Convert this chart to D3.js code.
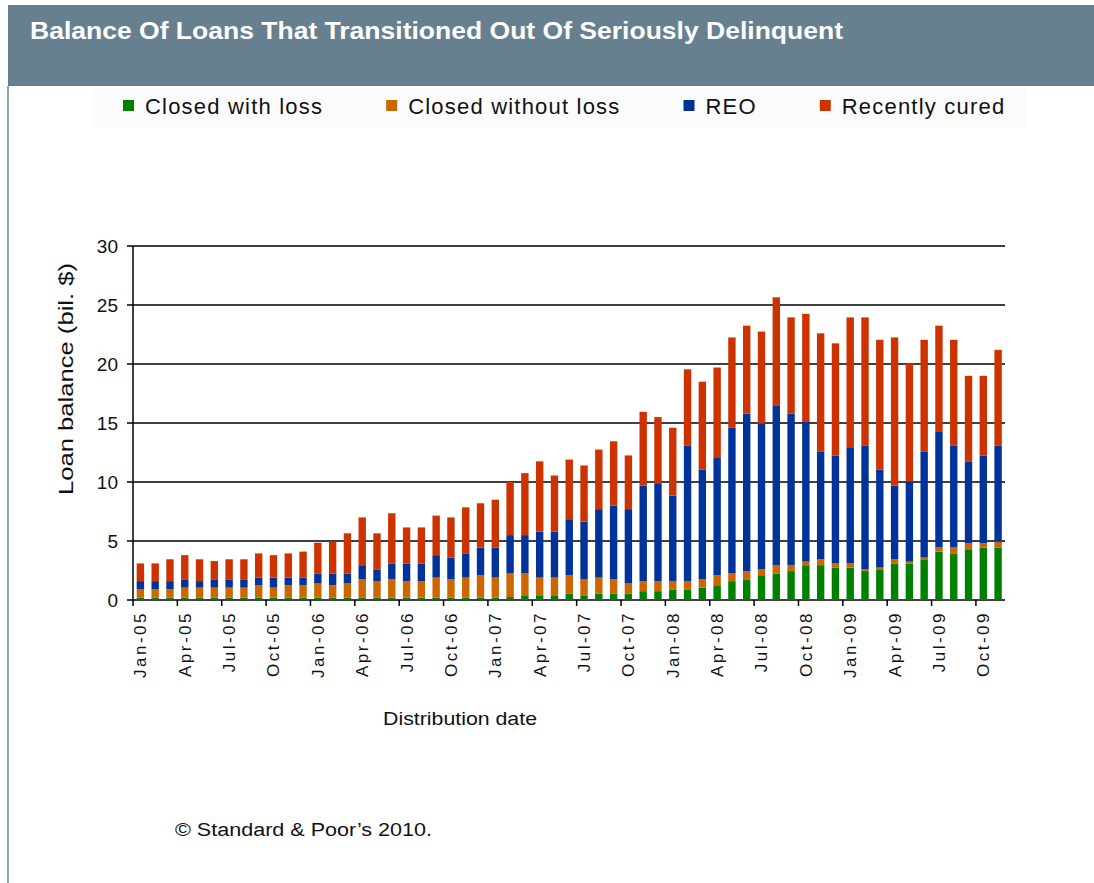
<!DOCTYPE html>
<html lang="en">
<head>
  <meta charset="UTF-8">
  <title>Balance Of Loans That Transitioned Out Of Seriously Delinquent</title>
  <style>
    body {
      margin: 0;
      background-color: #fff;
    }
    svg {
      display: block;
      font-family: 'Liberation Sans', Arial, sans-serif;
    }
  </style>
</head>
<body>
  <svg width="1094" height="883"></svg>
  <script src="https://d3js.org/d3.v7.min.js"></script>
  <script>
    // Data (bil. $), Jan-05 .. Nov-09
    const months = [
      "Jan-05","Feb-05","Mar-05","Apr-05","May-05","Jun-05","Jul-05","Aug-05","Sep-05","Oct-05","Nov-05","Dec-05",
      "Jan-06","Feb-06","Mar-06","Apr-06","May-06","Jun-06","Jul-06","Aug-06","Sep-06","Oct-06","Nov-06","Dec-06",
      "Jan-07","Feb-07","Mar-07","Apr-07","May-07","Jun-07","Jul-07","Aug-07","Sep-07","Oct-07","Nov-07","Dec-07",
      "Jan-08","Feb-08","Mar-08","Apr-08","May-08","Jun-08","Jul-08","Aug-08","Sep-08","Oct-08","Nov-08","Dec-08",
      "Jan-09","Feb-09","Mar-09","Apr-09","May-09","Jun-09","Jul-09","Aug-09","Sep-09","Oct-09","Nov-09"
    ];
    const tickLabels = [
      "Jan-05","Apr-05","Jul-05","Oct-05","Jan-06","Apr-06","Jul-06","Oct-06","Jan-07","Apr-07",
      "Jul-07","Oct-07","Jan-08","Apr-08","Jul-08","Oct-08","Jan-09","Apr-09","Jul-09","Oct-09"
    ];
    const seriesNames = ["Closed with loss", "Closed without loss", "REO", "Recently cured"];
    const seriesColors = ["#008000", "#cc6600", "#003399", "#cc3300"];

    const closedWithLoss = [
      0.2, 0.2, 0.2, 0.2, 0.2, 0.2, 0.2, 0.2, 0.2, 0.2, 0.2, 0.2,
      0.2, 0.2, 0.2, 0.2, 0.2, 0.2, 0.2, 0.2, 0.2, 0.2, 0.2, 0.2,
      0.2, 0.25, 0.4, 0.4, 0.4, 0.55, 0.4, 0.55, 0.55, 0.55, 0.75, 0.75,
      0.9, 0.9, 1.05, 1.25, 1.6, 1.75, 2.1, 2.25, 2.45, 2.95, 2.95, 2.75,
      2.75, 2.45, 2.6, 3.1, 3.1, 3.45, 4.1, 3.95, 4.3, 4.45, 4.45
    ];
    const closedWithoutLoss = [
      0.7, 0.7, 0.7, 0.85, 0.85, 0.85, 0.85, 0.85, 1.05, 0.85, 1.05, 1.05,
      1.2, 1.05, 1.2, 1.55, 1.4, 1.55, 1.4, 1.4, 1.7, 1.55, 1.7, 1.9,
      1.7, 2.0, 1.85, 1.5, 1.5, 1.55, 1.35, 1.35, 1.2, 0.85, 0.85, 0.85,
      0.7, 0.7, 0.7, 0.85, 0.65, 0.7, 0.5, 0.7, 0.5, 0.3, 0.5, 0.35,
      0.35, 0.15, 0.15, 0.35, 0.15, 0.15, 0.35, 0.5, 0.5, 0.35, 0.5
    ];
    const reo = [
      0.7, 0.7, 0.7, 0.7, 0.55, 0.7, 0.7, 0.7, 0.65, 0.85, 0.65, 0.65,
      0.85, 1.0, 0.85, 1.2, 1.0, 1.35, 1.5, 1.5, 1.9, 1.85, 2.05, 2.35,
      2.55, 3.25, 3.25, 3.9, 3.9, 4.75, 4.9, 5.8, 6.25, 6.3, 8.1, 8.3,
      7.25, 11.5, 9.3, 10.0, 12.35, 13.35, 12.35, 13.55, 12.85, 11.9, 9.15, 9.15,
      9.85, 10.5, 8.3, 6.25, 6.8, 9.0, 9.85, 8.65, 6.95, 7.45, 8.15
    ];
    const recentlyCured = [
      1.5, 1.5, 1.85, 2.05, 1.85, 1.55, 1.7, 1.7, 2.05, 1.9, 2.05, 2.2,
      2.6, 2.7, 3.4, 4.05, 3.05, 4.25, 3.05, 3.05, 3.35, 3.4, 3.9, 3.75,
      4.05, 4.5, 5.25, 5.95, 4.75, 5.05, 4.75, 5.05, 5.45, 4.55, 6.25, 5.6,
      5.75, 6.45, 7.45, 7.6, 7.65, 7.45, 7.8, 9.15, 8.15, 9.1, 10.0, 9.5,
      11.0, 10.85, 11.0, 12.55, 10.0, 9.45, 8.95, 8.95, 7.25, 6.75, 8.1
    ];
    const yTicks = [0, 5, 10, 15, 20, 25, 30];

    const table = months.map((m, i) => ({
      month: m,
      "Closed with loss": closedWithLoss[i],
      "Closed without loss": closedWithoutLoss[i],
      "REO": reo[i],
      "Recently cured": recentlyCured[i]
    }));

    const svg = d3.select('svg');

    // Header band and left border
    svg.append('rect')
      .attr('x', 8).attr('y', 5).attr('width', 1086).attr('height', 81)
      .style('fill', '#66808f');
    svg.append('rect')
      .attr('x', 7).attr('y', 86).attr('width', 2).attr('height', 797)
      .style('fill', '#8ea3b4');

    svg.append('text')
      .attr('x', 30).attr('y', 39)
      .attr('textLength', 813).attr('lengthAdjust', 'spacingAndGlyphs')
      .style('font-size', '24px').style('font-weight', 'bold').style('fill', '#fff')
      .text('Balance Of Loans That Transitioned Out Of Seriously Delinquent');

    // Legend
    svg.append('rect')
      .attr('x', 93).attr('y', 88).attr('width', 933).attr('height', 40)
      .style('fill', '#fbfbfb');
    let lx = 123;
    seriesNames.forEach((name, i) => {
      svg.append('rect')
        .attr('x', lx).attr('y', 100).attr('width', 11).attr('height', 11)
        .style('fill', seriesColors[i]);
      const t = svg.append('text')
        .attr('x', lx + 22).attr('y', 114)
        .style('font-size', '22px').style('letter-spacing', '1.2px').style('fill', '#111')
        .text(name);
      lx += 22 + t.node().getComputedTextLength() + 63;
    });

    // Scales
    const x = d3.scaleBand()
      .domain(months)
      .range([133, 1005.5])
      .paddingInner(0.5)
      .paddingOuter(0.25);
    const y = d3.scaleLinear()
      .domain([0, 30])
      .range([600, 246]);

    const stack = d3.stack().keys(seriesNames);
    const layers = stack(table);

    // Gridlines
    svg.append('g')
      .selectAll('line')
      .data(yTicks)
      .join('line')
      .attr('x1', 127).attr('x2', 1005)
      .attr('y1', d => y(d)).attr('y2', d => y(d))
      .attr('stroke-width', 1.5)
      .style('stroke', '#000');

    // Bars
    svg.append('g')
      .selectAll('g')
      .data(layers)
      .join('g')
      .style('fill', (d, i) => seriesColors[i])
      .selectAll('rect')
      .data(d => d)
      .join('rect')
      .attr('x', d => x(d.data.month))
      .attr('width', x.bandwidth())
      .attr('y', d => y(d[1]))
      .attr('height', d => y(d[0]) - y(d[1]));

    // Y axis
    svg.append('line')
      .attr('x1', 133).attr('x2', 133).attr('y1', 246).attr('y2', 600)
      .attr('stroke-width', 1.5).style('stroke', '#000');
    svg.append('g')
      .selectAll('text')
      .data(yTicks)
      .join('text')
      .attr('x', 118).attr('y', d => y(d) + 7)
      .attr('text-anchor', 'end')
      .style('font-size', '19px').style('fill', '#111')
      .text(d => d);

    svg.append('text')
      .attr('transform', 'translate(73,379) rotate(-90)')
      .attr('text-anchor', 'middle')
      .attr('textLength', 232).attr('lengthAdjust', 'spacingAndGlyphs')
      .style('font-size', '20px').style('fill', '#111')
      .text('Loan balance (bil. $)');

    // X axis: ticks every 3 months on category boundaries
    const half = (x.step() - x.bandwidth()) / 2;
    svg.append('g')
      .selectAll('line')
      .data(tickLabels)
      .join('line')
      .attr('x1', d => x(d) - half).attr('x2', d => x(d) - half)
      .attr('y1', 600).attr('y2', 606)
      .attr('stroke-width', 1.5)
      .style('stroke', '#000');
    svg.append('g')
      .selectAll('text')
      .data(tickLabels)
      .join('text')
      .attr('transform', d => `translate(${x(d) + x.bandwidth() / 2 + 6},611) rotate(-90)`)
      .attr('text-anchor', 'end')
      .style('font-size', '17px').style('letter-spacing', '2.5px').style('fill', '#111')
      .text(d => d);

    svg.append('text')
      .attr('x', 383).attr('y', 725)
      .attr('textLength', 154).attr('lengthAdjust', 'spacingAndGlyphs')
      .style('font-size', '19px').style('fill', '#111')
      .text('Distribution date');

    svg.append('text')
      .attr('x', 175).attr('y', 836)
      .attr('textLength', 257).attr('lengthAdjust', 'spacingAndGlyphs')
      .style('font-size', '18px').style('fill', '#111')
      .text('\u00A9 Standard & Poor\u2019s 2010.');
  </script>
</body>
</html>
